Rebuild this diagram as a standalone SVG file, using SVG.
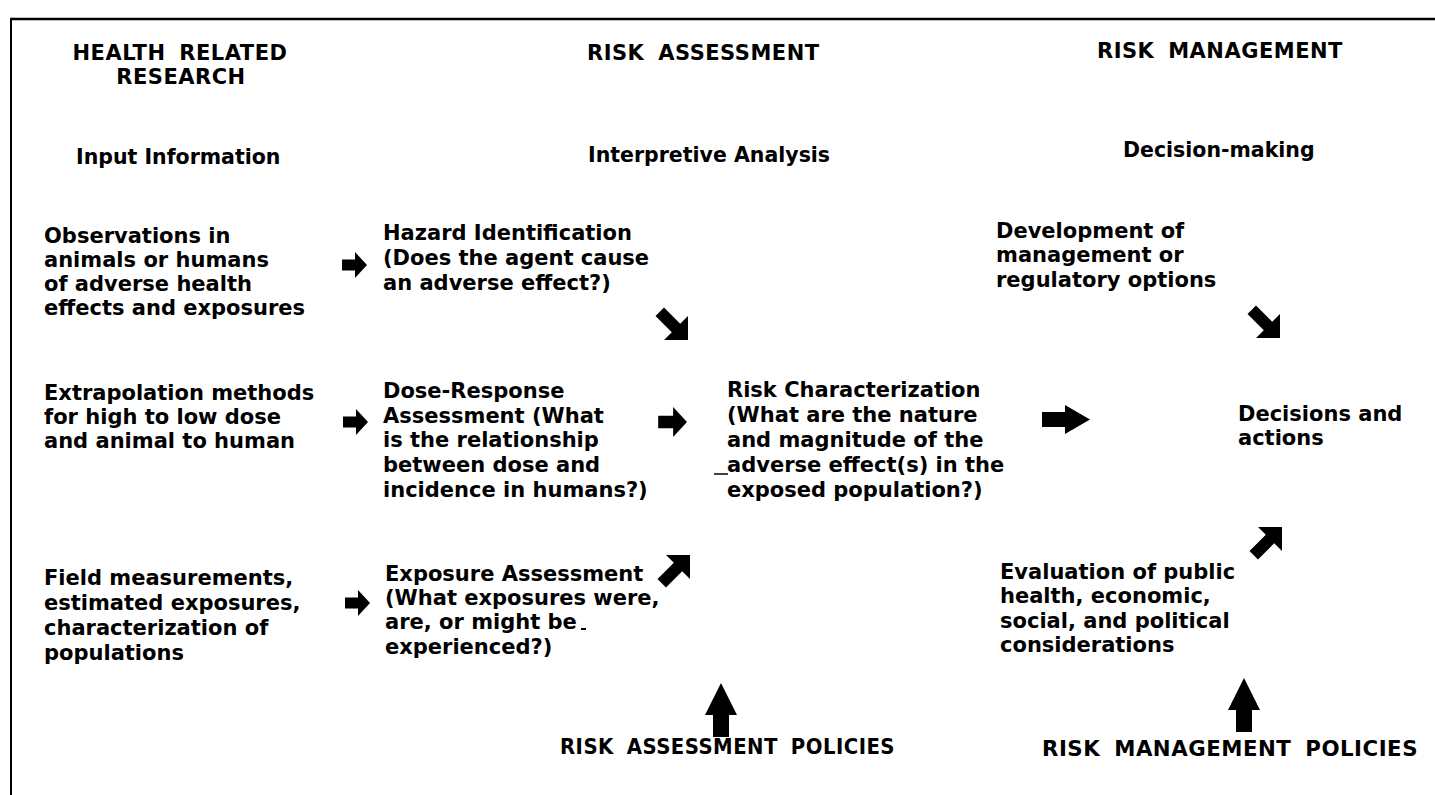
<svg xmlns="http://www.w3.org/2000/svg" width="1435" height="795" viewBox="0 0 1435 795">
  <style>
    text { font-family: "DejaVu Sans", "Liberation Sans", sans-serif; font-weight: bold; font-size: 21px; fill: #000; }
    .hdr { letter-spacing: 0.5px; word-spacing: 6px; }
    .mid { text-anchor: middle; }
    .sub { font-size: 20.5px; }
    .frame { stroke: #000; fill: none; }
    .arrow { fill: #000; }
  </style>
  <defs>
    <!-- small block arrow pointing right, centred on the origin -->
    <path id="arrSmall" d="M-12,-5.5 H1 V-13 L13,0 L1,13 V5.5 H-12 Z"/>
    <!-- diagonal block arrow, tip at the origin, pointing down-right -->
    <path id="arrDown" d="M0,0 L0,-24 L-7.8,-16.2 L-24,-32.5 L-32.5,-24 L-16.2,-7.8 L-24,0 Z"/>
    <!-- diagonal block arrow, tip at the origin, pointing up-right -->
    <path id="arrUp" d="M0,0 L0,24 L-7.8,16.2 L-24,32.5 L-32.5,24 L-16.2,7.8 L-24,0 Z"/>
    <!-- vertical block arrow, tip at the origin, pointing up -->
    <path id="arrVert" d="M0,0 L16,32 L8,32 L8,54 L-8,54 L-8,32 L-16,32 Z"/>
  </defs>

  <rect width="1435" height="795" fill="#fff"/>

  <!-- page frame -->
  <g id="frame">
    <line class="frame" x1="10" y1="19" x2="1435" y2="19" stroke-width="2.5"/>
    <line class="frame" x1="11" y1="18" x2="11" y2="795" stroke-width="2"/>
  </g>

  <!-- column headings -->
  <g id="col-research">
    <text class="hdr mid" x="180" y="60">HEALTH RELATED</text>
    <text class="hdr mid" x="181" y="84">RESEARCH</text>
    <text class="sub" x="76" y="164">Input Information</text>
  </g>
  <g id="col-assessment">
    <text class="hdr" x="587" y="60">RISK ASSESSMENT</text>
    <text class="sub" x="588" y="162">Interpretive Analysis</text>
  </g>
  <g id="col-management">
    <text class="hdr" x="1097" y="58">RISK MANAGEMENT</text>
    <text class="sub" x="1123" y="157">Decision-making</text>
  </g>

  <!-- research inputs -->
  <g id="observations">
    <text x="44" y="243">Observations in</text>
    <text x="44" y="267">animals or humans</text>
    <text x="44" y="291">of adverse health</text>
    <text x="44" y="315">effects and exposures</text>
  </g>
  <g id="extrapolation">
    <text x="44" y="400">Extrapolation methods</text>
    <text x="44" y="424">for high to low dose</text>
    <text x="44" y="448">and animal to human</text>
  </g>
  <g id="field-measurements">
    <text x="44" y="585">Field measurements,</text>
    <text x="44" y="610">estimated exposures,</text>
    <text x="44" y="635">characterization of</text>
    <text x="44" y="660">populations</text>
  </g>

  <!-- assessment steps -->
  <g id="hazard-identification">
    <text x="383" y="240">Hazard Identification</text>
    <text x="383" y="265">(Does the agent cause</text>
    <text x="383" y="290">an adverse effect?)</text>
  </g>
  <g id="dose-response">
    <text x="383" y="398">Dose-Response</text>
    <text x="383" y="423">Assessment (What</text>
    <text x="383" y="447">is the relationship</text>
    <text x="383" y="472">between dose and</text>
    <text x="383" y="497">incidence in humans?)</text>
  </g>
  <g id="exposure-assessment">
    <text x="385" y="581">Exposure Assessment</text>
    <text x="385" y="605">(What exposures were,</text>
    <text x="385" y="629">are, or might be</text>
    <rect x="581" y="628" width="5" height="2" fill="#000"/>
    <text x="385" y="654">experienced?)</text>
  </g>
  <g id="risk-characterization">
    <text x="727" y="397">Risk Characterization</text>
    <text x="727" y="422">(What are the nature</text>
    <text x="727" y="447">and magnitude of the</text>
    <line x1="714" y1="474" x2="728" y2="474" stroke="#000" stroke-width="1.5"/>
    <text x="727" y="472">adverse effect(s) in the</text>
    <text x="727" y="497">exposed population?)</text>
  </g>

  <!-- management steps -->
  <g id="management-options">
    <text x="996" y="238">Development of</text>
    <text x="996" y="262">management or</text>
    <text x="996" y="287">regulatory options</text>
  </g>
  <g id="decisions">
    <text x="1238" y="421">Decisions and</text>
    <text x="1238" y="445">actions</text>
  </g>
  <g id="evaluation">
    <text x="1000" y="579">Evaluation of public</text>
    <text x="1000" y="603">health, economic,</text>
    <text x="1000" y="628">social, and political</text>
    <text x="1000" y="652">considerations</text>
  </g>

  <!-- policy inputs -->
  <g id="assessment-policies">
    <text class="hdr" x="560" y="754" textLength="335" lengthAdjust="spacingAndGlyphs">RISK ASSESSMENT POLICIES</text>
  </g>
  <g id="management-policies">
    <text class="hdr" x="1042" y="756" textLength="376" lengthAdjust="spacingAndGlyphs">RISK MANAGEMENT POLICIES</text>
  </g>

  <!-- connectors -->
  <g id="connectors" class="arrow">
    <use href="#arrSmall" x="354" y="265"/>
    <use href="#arrSmall" x="355" y="422"/>
    <use href="#arrSmall" x="357" y="603"/>
    <use href="#arrSmall" transform="translate(672,422) scale(1.15)"/>
    <use href="#arrDown" x="688" y="340"/>
    <use href="#arrUp" x="690" y="555"/>
    <path d="M1042,412 H1065 V405 L1090,419.5 L1065,434 V427 H1042 Z"/>
    <use href="#arrDown" x="1280" y="338"/>
    <use href="#arrUp" x="1282" y="527"/>
    <use href="#arrVert" x="721" y="683"/>
    <use href="#arrVert" x="1244" y="678"/>
  </g>
</svg>
